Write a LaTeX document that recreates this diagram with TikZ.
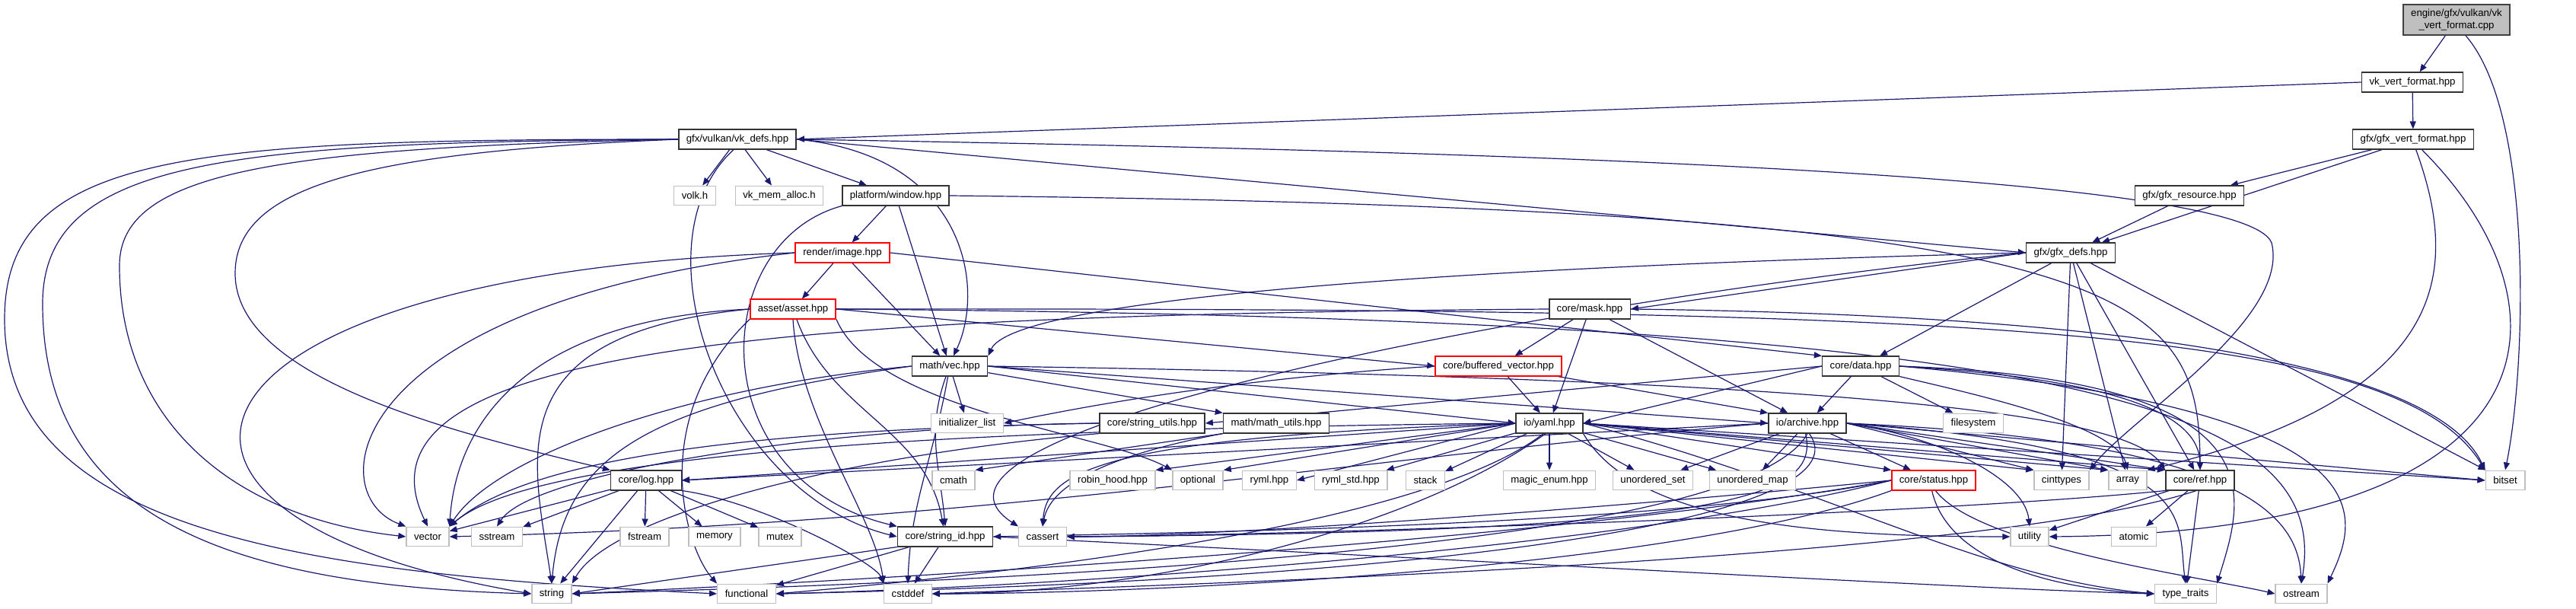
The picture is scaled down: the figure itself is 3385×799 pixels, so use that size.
\documentclass[tikz,border=0pt]{standalone}
\usepackage{fontspec}
\setmainfont{Liberation Sans}
\usepackage{tikz}
\usetikzlibrary{arrows.meta}
\definecolor{EdgeBlue}{RGB}{25,25,112}
\definecolor{SysGray}{RGB}{191,191,191}
\definecolor{BadRed}{RGB}{255,0,0}
\pgfdeclarelayer{edges}
\pgfsetlayers{edges,main}
\tikzset{
  doc/.style={draw=black!80,fill=white,line width=0.8pt,minimum height=12.75pt,
    inner xsep=5pt,inner ysep=0pt,font=\fontsize{6.6pt}{7.6pt}\selectfont},
  bad/.style={doc,draw=BadRed},
  sys/.style={doc,draw=SysGray,line width=0.7pt},
  root/.style={doc,fill=SysGray,draw=black!75,align=center,minimum height=20pt},
  dep/.style={draw=EdgeBlue,line width=0.6pt,-{Triangle[length=5pt,width=4pt]}},
}

\begin{document}
\begin{tikzpicture}[x=0.5pt,y=0.5pt]
\useasboundingbox (0,0) rectangle (3385,799);
% files, one rank per row
\node[root] (cpp) at (3228,773) {engine/gfx/vulkan/vk\\\_vert\_format.cpp};
\node[doc] (vkvf) at (3170,691) {vk\_vert\_format.hpp};
\node[doc] (vkdefs) at (969,616) {gfx/vulkan/vk\_defs.hpp};
\node[doc] (gfxvf) at (3171,616) {gfx/gfx\_vert\_format.hpp};
\node[sys] (volk) at (913,542) {volk.h};
\node[sys] (vma) at (1024,542) {vk\_mem\_alloc.h};
\node[doc] (window) at (1177,542) {platform/window.hpp};
\node[doc] (gfxres) at (2877,542) {gfx/gfx\_resource.hpp};
\node[bad] (image) at (1107,467) {render/image.hpp};
\node[doc] (gfxdefs) at (2721,467) {gfx/gfx\_defs.hpp};
\node[bad] (asset) at (1042,393) {asset/asset.hpp};
\node[doc] (mask) at (2089,393) {core/mask.hpp};
\node[doc] (vec) at (1248,318) {math/vec.hpp};
\node[bad] (bufvec) at (1969,318) {core/buffered\_vector.hpp};
\node[doc] (data) at (2445,318) {core/data.hpp};
\node[sys] (initl) at (1271,243) {initializer\_list};
\node[doc] (strutils) at (1514,243) {core/string\_utils.hpp};
\node[doc] (mathutils) at (1677,243) {math/math\_utils.hpp};
\node[doc] (yaml) at (2036,243) {io/yaml.hpp};
\node[doc] (archive) at (2375,243) {io/archive.hpp};
\node[sys] (fsys) at (2593,243) {filesystem};
\node[doc] (log) at (849,168) {core/log.hpp};
\node[sys] (cmath) at (1253,168) {cmath};
\node[sys] (robin) at (1462,168) {robin\_hood.hpp};
\node[sys] (optional) at (1574,168) {optional};
\node[sys] (ryml) at (1668,168) {ryml.hpp};
\node[sys] (rymlstd) at (1775,168) {ryml\_std.hpp};
\node[sys] (stack) at (1873,168) {stack};
\node[sys] (magic) at (2036,168) {magic\_enum.hpp};
\node[sys] (uset) at (2172,168) {unordered\_set};
\node[sys] (umap) at (2303,168) {unordered\_map};
\node[bad] (status) at (2541,168) {core/status.hpp};
\node[sys] (cinttypes) at (2709,168) {cinttypes};
\node[sys] (array) at (2796,168) {array};
\node[doc] (ref) at (2891,168) {core/ref.hpp};
\node[sys] (bitset) at (3292,168) {bitset};
\node[sys] (vector) at (562,94) {vector};
\node[sys] (sstream) at (653,94) {sstream};
\node[sys] (fstream) at (847,94) {fstream};
\node[sys] (memory) at (939,94) {memory};
\node[sys] (mutex) at (1025,94) {mutex};
\node[doc] (strid) at (1242,94) {core/string\_id.hpp};
\node[sys] (cassert) at (1370,94) {cassert};
\node[sys] (utility) at (2667,94) {utility};
\node[sys] (atomic) at (2804,94) {atomic};
\node[sys] (string) at (725,19) {string};
\node[sys] (functional) at (981,19) {functional};
\node[sys] (cstddef) at (1193,19) {cstddef};
\node[sys] (typetraits) at (2872,19) {type\_traits};
\node[sys] (ostream) at (3024,19) {ostream};
\begin{pgfonlayer}{edges}
% the source file
\draw[dep] (cpp) -- (vkvf);
\draw[dep] (cpp.-60) .. controls (3329,650) and (3320,320) .. (bitset.north);
\draw[dep] (vkvf.west) -- (vkdefs.east);
\draw[dep] (vkvf) -- (gfxvf);
% gfx/gfx_vert_format.hpp
\draw[dep] (gfxvf) -- (gfxres);
\draw[dep] (gfxvf) -- (gfxdefs);
\draw[dep] (gfxvf.-75) .. controls (3230,450) and (3230,280) .. (array.north east);
\draw[dep] (gfxvf.-50) .. controls (3385,400) and (3380,100) .. (utility.east);
\draw[dep] (gfxres) -- (gfxdefs);
% gfx/vulkan/vk_defs.hpp
\draw[dep] (vkdefs) -- (volk);
\draw[dep] (vkdefs) -- (vma);
\draw[dep] (vkdefs) -- (window);
\draw[dep] (vkdefs.east) -- (gfxdefs.west);
\draw[dep] (vkdefs.east) .. controls (1270,595) and (1295,420) .. (vec.70);
\draw[dep] (vkdefs.east) .. controls (2000,600) and (2950,570) .. (2985,480) .. controls (3010,380) and (2800,250) .. (cinttypes.north east);
\draw[dep] (vkdefs.west) .. controls (500,600) and (309,560) .. (309,440) .. controls (309,300) and (600,230) .. (log.north west);
\draw[dep] (vkdefs.west) .. controls (350,605) and (157,570) .. (157,450) .. controls (157,250) and (300,120) .. (vector.west);
\draw[dep] (vkdefs.west) .. controls (300,612) and (56,590) .. (56,400) .. controls (56,120) and (300,30) .. (string.west);
\draw[dep] (vkdefs.west) .. controls (250,616) and (6,600) .. (6,380) .. controls (6,100) and (400,45) .. (functional.west);
\draw[dep] (vkdefs.-110) .. controls (830,480) and (950,150) .. (strid.west);
% platform/window.hpp
\draw[dep] (window) -- (image);
\draw[dep] (window) -- (vec);
\draw[dep] (window.south west) .. controls (930,480) and (920,170) .. (strid.north west);
\draw[dep] (window.east) .. controls (2800,525) and (2890,420) .. (ref.north);
% render/image.hpp
\draw[dep] (image) -- (asset);
\draw[dep] (image) -- (vec);
\draw[dep] (image.east) -- (data.north west);
\draw[dep] (image.west) .. controls (200,440) and (100,120) .. (string.west);
\draw[dep] (image.west) .. controls (450,400) and (420,150) .. (vector.north west);
% gfx/gfx_defs.hpp
\draw[dep] (gfxdefs.west) -- (mask.east);
\draw[dep] (gfxdefs.west) .. controls (1800,445) and (1330,400) .. (vec.north east);
\draw[dep] (gfxdefs.west) .. controls (2000,400) and (1150,230) .. (cassert.north west);
\draw[dep] (gfxdefs) -- (data);
\draw[dep] (gfxdefs) -- (cinttypes);
\draw[dep] (gfxdefs) -- (array);
\draw[dep] (gfxdefs) -- (ref);
\draw[dep] (gfxdefs) -- (bitset);
% asset/asset.hpp
\draw[dep] (asset.east) -- (bufvec.west);
\draw[dep] (asset.east) .. controls (2600,395) and (3150,370) .. (bitset.north west);
\draw[dep] (asset) to[out=-70,in=100] (strid);
\draw[dep] (asset.south east) .. controls (1150,260) and (1450,230) .. (optional.north west);
\draw[dep] (asset.west) .. controls (700,380) and (600,250) .. (vector.north east);
\draw[dep] (asset.west) .. controls (650,360) and (700,200) .. (string.north);
\draw[dep] (asset.south west) .. controls (850,250) and (900,80) .. (functional.north west);
\draw[dep] (asset.south) .. controls (1050,250) and (1150,120) .. (cstddef.north west);
\draw[dep] (asset.east) .. controls (2800,380) and (3060,250) .. (ostream.north);
% core/mask.hpp
\draw[dep] (mask) -- (bufvec);
\draw[dep] (mask) -- (yaml);
\draw[dep] (mask) -- (archive);
\draw[dep] (mask.east) .. controls (2800,385) and (3200,320) .. (bitset.north west);
\draw[dep] (mask.west) .. controls (1000,385) and (450,340) .. (vector.north);
% math/vec.hpp
\draw[dep] (vec) -- (initl);
\draw[dep] (vec) -- (mathutils.north west);
\draw[dep] (vec.east) -- (yaml.west);
\draw[dep] (vec.east) -- (archive.west);
\draw[dep] (vec.east) .. controls (2500,300) and (2800,250) .. (ref.north west);
\draw[dep] (vec.-110) to[out=-110,in=95] (strid.north);
\draw[dep] (vec.-100) to[out=-100,in=88] (cstddef.north);
\draw[dep] (vec.west) .. controls (900,290) and (650,200) .. (vector.north east);
\draw[dep] (vec.west) .. controls (850,270) and (740,200) .. (string.north);
% core/buffered_vector.hpp
\draw[dep] (bufvec) -- (yaml);
\draw[dep] (bufvec) -- (archive.north west);
\draw[dep] (bufvec.west) .. controls (1600,300) and (1400,260) .. (initl.east);
% core/data.hpp
\draw[dep] (data) -- (archive);
\draw[dep] (data.west) -- (yaml.east);
\draw[dep] (data.west) -- (strutils.east);
\draw[dep] (data) -- (fsys);
\draw[dep] (data.south east) .. controls (2600,280) and (2780,240) .. (array.north);
\draw[dep] (data.east) .. controls (2800,300) and (2890,250) .. (ref.north);
\draw[dep] (data.east) .. controls (3150,260) and (3100,120) .. (ostream.north east);
\draw[dep] (data.east) .. controls (3000,300) and (2950,150) .. (typetraits.north east);
% io/yaml.hpp
\draw[dep] (yaml) -- (magic);
\draw[dep] (yaml) -- (uset);
\draw[dep] (yaml) -- (umap);
\draw[dep] (yaml.east) -- (status.north west);
\draw[dep] (yaml) -- (stack);
\draw[dep] (yaml) -- (rymlstd);
\draw[dep] (yaml.west) -- (ryml.east);
\draw[dep] (yaml.west) -- (optional.north east);
\draw[dep] (yaml.west) -- (robin.north east);
\draw[dep] (yaml.west) -- (log.east);
\draw[dep] (yaml.west) .. controls (1200,235) and (700,200) .. (vector.north east);
\draw[dep] (yaml.east) -- (cinttypes.north west);
\draw[dep] (yaml.east) -- (array.north west);
\draw[dep] (yaml.east) -- (ref.north west);
\draw[dep] (yaml.east) -- (bitset.west);
\draw[dep] (yaml.-120) .. controls (1900,130) and (1500,60) .. (functional.east);
\draw[dep] (yaml.-110) .. controls (1850,100) and (1500,19) .. (cstddef.east);
\draw[dep] (yaml.south east) .. controls (2150,110) and (2400,94) .. (utility.west);
\draw[dep] (yaml.west) .. controls (1450,225) and (1375,180) .. (cassert.north);
\draw[dep] (yaml.east) .. controls (2400,160) and (2600,40) .. (typetraits.west);
% io/archive.hpp
\draw[dep] (archive) -- (uset);
\draw[dep] (archive) -- (umap);
\draw[dep] (archive) -- (status);
\draw[dep] (archive.east) -- (cinttypes.north west);
\draw[dep] (archive.east) -- (array.north west);
\draw[dep] (archive.east) -- (ref.north west);
\draw[dep] (archive.east) -- (bitset.west);
\draw[dep] (archive.west) -- (log.east);
\draw[dep] (archive.east) .. controls (2950,220) and (3020,120) .. (ostream.north);
\draw[dep] (archive.east) .. controls (2900,210) and (2860,120) .. (typetraits.north);
\draw[dep] (archive.east) .. controls (2550,225) and (2660,170) .. (utility.north);
\draw[dep] (archive.-100) .. controls (2390,150) and (2300,100) .. (cassert.east);
\draw[dep] (archive.-80) .. controls (2450,130) and (2000,40) .. (functional.east);
\draw[dep] (archive.-90) .. controls (2300,90) and (1500,40) .. (string.east);
\draw[dep] (archive.west) .. controls (1800,200) and (1300,111) .. (vector.east);
% core/status.hpp
\draw[dep] (status.west) .. controls (2200,110) and (1600,100) .. (strid.east);
\draw[dep] (status.west) .. controls (2100,130) and (1600,94) .. (cassert.east);
\draw[dep] (status.west) .. controls (2000,80) and (1000,30) .. (string.east);
\draw[dep] (status.west) .. controls (2100,70) and (1300,25) .. (functional.east);
\draw[dep] (status.south west) .. controls (2200,50) and (1500,19) .. (cstddef.east);
\draw[dep] (status.-100) .. controls (2560,60) and (2700,25) .. (typetraits.west);
\draw[dep] (status.-80) .. controls (2600,80) and (2900,40) .. (ostream.west);
% core/ref.hpp
\draw[dep] (ref) -- (utility);
\draw[dep] (ref) -- (atomic);
\draw[dep] (ref) -- (typetraits);
\draw[dep] (ref.south west) .. controls (2500,120) and (1600,94) .. (cassert.east);
\draw[dep] (ref.-110) .. controls (2600,60) and (1500,30) .. (cstddef.east);
% core/log.hpp
\draw[dep] (log) -- (vector);
\draw[dep] (log) -- (sstream);
\draw[dep] (log) -- (fstream);
\draw[dep] (log) -- (memory);
\draw[dep] (log) -- (mutex);
\draw[dep] (log) -- (string);
\draw[dep] (log.south east) .. controls (1000,140) and (1150,60) .. (cstddef.north west);
% core/string_id.hpp
\draw[dep] (strid.south west) -- (string.east);
\draw[dep] (strid) -- (functional);
\draw[dep] (strid) -- (cstddef);
\draw[dep] (strid.east) .. controls (2000,60) and (2600,25) .. (typetraits.west);
% core/string_utils.hpp, math/math_utils.hpp
\draw[dep] (strutils.west) .. controls (1000,235) and (700,200) .. (vector.north east);
\draw[dep] (strutils.south west) .. controls (1100,200) and (800,120) .. (string.north east);
\draw[dep] (strutils.west) .. controls (1100,240) and (700,180) .. (sstream.north);
\draw[dep] (mathutils.south west) -- (cmath.north east);
\draw[dep] (mathutils.south west) .. controls (1450,200) and (1380,160) .. (cassert.north);
\end{pgfonlayer}
\end{tikzpicture}
\end{document}
